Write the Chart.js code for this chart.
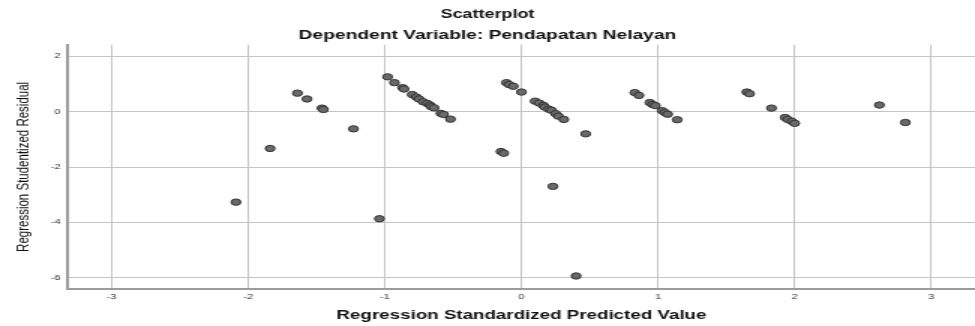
<!DOCTYPE html>
<html>
<head>
<meta charset="utf-8">
<script src="https://cdn.jsdelivr.net/npm/chart.js@4"></script>
<style>
  html, body { margin: 0; padding: 0; background: #fff; overflow: hidden; }
  /* the original export is stretched sideways, so draw narrow and stretch */
  #wrap { width: 650px; height: 326px; transform: scaleX(1.5); transform-origin: 0 0; }
</style>
</head>
<body>
<div id="wrap"><canvas id="myChart"></canvas></div>
<script>
const predicted = [
  -2.09, -1.84, -1.64, -1.57, -1.46, -1.45, -1.23, -1.04,
  -0.98, -0.93, -0.87, -0.86, -0.80, -0.77, -0.75, -0.72, -0.69, -0.67, -0.66, -0.64, -0.59, -0.57, -0.52,
  -0.15, -0.13, -0.11, -0.09, -0.06, 0.00,
  0.10, 0.13, 0.16, 0.17, 0.20, 0.22, 0.25, 0.27, 0.31, 0.23, 0.40, 0.47,
  0.83, 0.86, 0.94, 0.96, 0.98, 1.03, 1.05, 1.07, 1.14,
  1.65, 1.67, 1.83, 1.93, 1.95, 1.98, 2.00,
  2.62, 2.81
]
const residual = [
  -3.27, -1.33, 0.67, 0.46, 0.13, 0.08, -0.62, -3.87,
  1.26, 1.05, 0.87, 0.82, 0.62, 0.53, 0.46, 0.36, 0.30, 0.24, 0.18, 0.14, -0.06, -0.10, -0.27,
  -1.44, -1.50, 1.05, 0.98, 0.92, 0.71,
  0.38, 0.31, 0.23, 0.17, 0.09, 0.05, -0.07, -0.16, -0.28, -2.70, -5.94, -0.80,
  0.69, 0.59, 0.33, 0.26, 0.22, 0.04, -0.03, -0.09, -0.29,
  0.71, 0.65, 0.13, -0.21, -0.28, -0.35, -0.42,
  0.24, -0.39
]
const x_ticks = [-3, -2, -1, 0, 1, 2, 3]
const y_ticks = [-6, -4, -2, 0, 2]

let points = []
for (let i = 0; i < predicted.length; i++) {
  points.push({x: predicted[i], y: residual[i]})
}

const GRID = '#c4c4c4'
const AXIS = '#9c9c9c'
const TEXT = '#111'

const data = {
  datasets: [{
    label: 'Residual',
    data: points,
    pointRadius: 3.2,
    pointHoverRadius: 3.2,
    pointBackgroundColor: '#6a6a6a',
    pointBorderColor: '#333',
    pointBorderWidth: 1
  }]
}

const config = {
  type: 'scatter',
  data: data,
  options: {
    responsive: true,
    maintainAspectRatio: false,
    animation: false,
    layout: { padding: 0, autoPadding: false },
    plugins: {
      legend: { display: false },
      tooltip: { enabled: false },
      title: {
        display: true,
        text: 'Scatterplot',
        color: TEXT,
        font: { family: 'Liberation Sans, Arial, sans-serif', size: 12, weight: 'bold' },
        padding: { top: 7, bottom: 6 }
      },
      subtitle: {
        display: true,
        text: 'Dependent Variable: Pendapatan Nelayan',
        color: TEXT,
        font: { family: 'Liberation Sans, Arial, sans-serif', size: 12.8, weight: 'bold' },
        padding: { top: 0, bottom: 2 }
      }
    },
    scales: {
      x: {
        type: 'linear',
        min: -3.32,
        max: 3.32,
        afterBuildTicks: (scale) => { scale.ticks = x_ticks.map(v => ({value: v})) },
        afterFit: (scale) => { scale.height = 37; scale.paddingLeft = 0; scale.paddingRight = 0 },
        ticks: { color: '#333', font: { family: 'Liberation Sans, Arial, sans-serif', size: 7.5 }, padding: 3, maxRotation: 0 },
        grid: { color: GRID, lineWidth: 1, drawTicks: false },
        border: { color: AXIS, width: 2 },
        title: {
          display: true,
          text: 'Regression Standardized Predicted Value',
          color: TEXT,
          font: { family: 'Liberation Sans, Arial, sans-serif', size: 12.5, weight: 'bold' },
          padding: { top: 0, bottom: 3 }
        }
      },
      y: {
        type: 'linear',
        min: -6.41,
        max: 2.42,
        afterBuildTicks: (scale) => { scale.ticks = y_ticks.map(v => ({value: v})) },
        afterFit: (scale) => { scale.width = 45.3; scale.paddingTop = 0; scale.paddingBottom = 0 },
        ticks: { color: '#333', font: { family: 'Liberation Sans, Arial, sans-serif', size: 7.5 }, padding: 5 },
        grid: { color: GRID, lineWidth: 1, drawTicks: false },
        border: { color: AXIS, width: 2 },
        title: {
          display: true,
          text: 'Regression Studentized Residual',
          color: TEXT,
          font: { family: 'Liberation Sans, Arial, sans-serif', size: 11.5 },
          padding: { top: 9, bottom: 0 }
        }
      }
    }
  }
}

const myChart = new Chart(document.getElementById('myChart'), config)
</script>
</body>
</html>
